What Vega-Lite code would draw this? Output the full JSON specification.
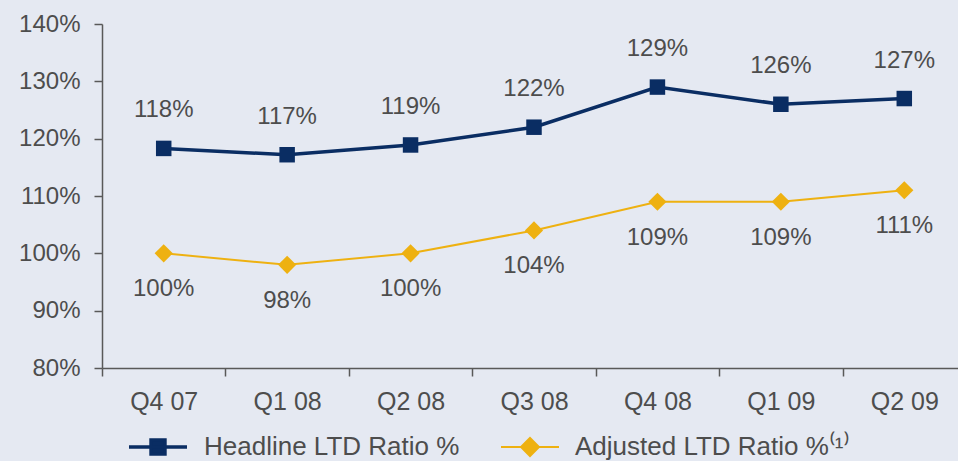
{
  "$schema": "https://vega.github.io/schema/vega-lite/v6.json",
  "width": 864,
  "height": 344,
  "autosize": {"type": "none"},
  "padding": {"left": 102, "top": 24, "right": 0, "bottom": 93},
  "background": "#E5E9F2",
  "config": {"view": {"stroke": null}, "font": "Liberation Sans"},
  "data": {
    "values": [
      {"quarter": "Q4 07", "series": "Headline LTD Ratio %", "value": 1.183},
      {"quarter": "Q1 08", "series": "Headline LTD Ratio %", "value": 1.172},
      {"quarter": "Q2 08", "series": "Headline LTD Ratio %", "value": 1.189},
      {"quarter": "Q3 08", "series": "Headline LTD Ratio %", "value": 1.22},
      {"quarter": "Q4 08", "series": "Headline LTD Ratio %", "value": 1.29},
      {"quarter": "Q1 09", "series": "Headline LTD Ratio %", "value": 1.26},
      {"quarter": "Q2 09", "series": "Headline LTD Ratio %", "value": 1.27},
      {"quarter": "Q4 07", "series": "Adjusted LTD Ratio %⁽¹⁾", "value": 1.0},
      {"quarter": "Q1 08", "series": "Adjusted LTD Ratio %⁽¹⁾", "value": 0.98},
      {"quarter": "Q2 08", "series": "Adjusted LTD Ratio %⁽¹⁾", "value": 1.0},
      {"quarter": "Q3 08", "series": "Adjusted LTD Ratio %⁽¹⁾", "value": 1.04},
      {"quarter": "Q4 08", "series": "Adjusted LTD Ratio %⁽¹⁾", "value": 1.09},
      {"quarter": "Q1 09", "series": "Adjusted LTD Ratio %⁽¹⁾", "value": 1.09},
      {"quarter": "Q2 09", "series": "Adjusted LTD Ratio %⁽¹⁾", "value": 1.11}
    ]
  },
  "encoding": {
    "x": {
      "field": "quarter",
      "type": "ordinal",
      "sort": null,
      "scale": {"type": "band", "paddingInner": 0, "paddingOuter": 0},
      "axis": {
        "title": null,
        "labelAngle": 0,
        "tickBand": "extent",
        "labelFontSize": 25,
        "labelColor": "#4D4D4D",
        "labelPadding": 13,
        "domainColor": "#595959",
        "domainWidth": 1.5,
        "tickColor": "#595959",
        "tickWidth": 1.5,
        "tickSize": 8,
        "grid": false
      }
    },
    "y": {
      "field": "value",
      "type": "quantitative",
      "scale": {"domain": [0.8, 1.4], "nice": false, "zero": false},
      "axis": {
        "title": null,
        "values": [0.8, 0.9, 1.0, 1.1, 1.2, 1.3, 1.4],
        "format": ".0%",
        "labelFontSize": 24,
        "labelColor": "#4D4D4D",
        "labelPadding": 14,
        "domainColor": "#595959",
        "domainWidth": 1.5,
        "tickColor": "#595959",
        "tickWidth": 1.5,
        "tickSize": 8,
        "grid": false
      }
    },
    "color": {
      "field": "series",
      "type": "nominal",
      "scale": {
        "domain": ["Headline LTD Ratio %", "Adjusted LTD Ratio %⁽¹⁾"],
        "range": ["#0A2D63", "#EEB111"]
      },
      "legend": {
        "title": null,
        "orient": "none",
        "legendX": 25,
        "legendY": 392,
        "direction": "horizontal",
        "padding": 0,
        "symbolSize": 3364,
        "symbolType": "M-1,0H1",
        "symbolStrokeWidth": 3,
        "labelFontSize": 26,
        "labelColor": "#4D4D4D",
        "labelOffset": 15,
        "columnPadding": 37,
        "labelLimit": 0,
        "encode": {
          "symbols": {
            "update": {
              "shape": {"signal": "datum.value === 'Headline LTD Ratio %' ? 'M-1,0H1M-0.24,-0.24H0.24V0.24H-0.24Z' : 'M-1,0H1M-0.31,0L0,-0.31L0.31,0L0,0.31Z'"},
              "fill": {"scale": "color", "field": "value"},
              "stroke": {"scale": "color", "field": "value"},
              "strokeWidth": {"signal": "datum.value === 'Headline LTD Ratio %' ? 3 : 2"},
              "opacity": {"value": 1},
              "fillOpacity": {"value": 1}
            }
          }
        }
      }
    }
  },
  "layer": [
    {
      "mark": {"type": "line"},
      "encoding": {
        "strokeWidth": {
          "field": "series",
          "type": "nominal",
          "scale": {"domain": ["Headline LTD Ratio %", "Adjusted LTD Ratio %⁽¹⁾"], "range": [3.5, 2]},
          "legend": null
        }
      }
    },
    {
      "transform": [{"filter": "datum.series === 'Headline LTD Ratio %'"}],
      "mark": {"type": "point", "filled": true, "opacity": 1, "shape": "square", "size": 240}
    },
    {
      "transform": [{"filter": "datum.series !== 'Headline LTD Ratio %'"}],
      "mark": {"type": "point", "filled": true, "opacity": 1, "shape": "diamond", "size": 330}
    },
    {
      "transform": [{"filter": "datum.series === 'Headline LTD Ratio %'"}],
      "mark": {"type": "text", "dy": -38, "fontSize": 24},
      "encoding": {
        "text": {"field": "value", "type": "quantitative", "format": ".0%"},
        "color": {"value": "#4D4D4D"}
      }
    },
    {
      "transform": [{"filter": "datum.series !== 'Headline LTD Ratio %'"}],
      "mark": {"type": "text", "dy": 36, "fontSize": 24},
      "encoding": {
        "text": {"field": "value", "type": "quantitative", "format": ".0%"},
        "color": {"value": "#4D4D4D"}
      }
    }
  ]
}
